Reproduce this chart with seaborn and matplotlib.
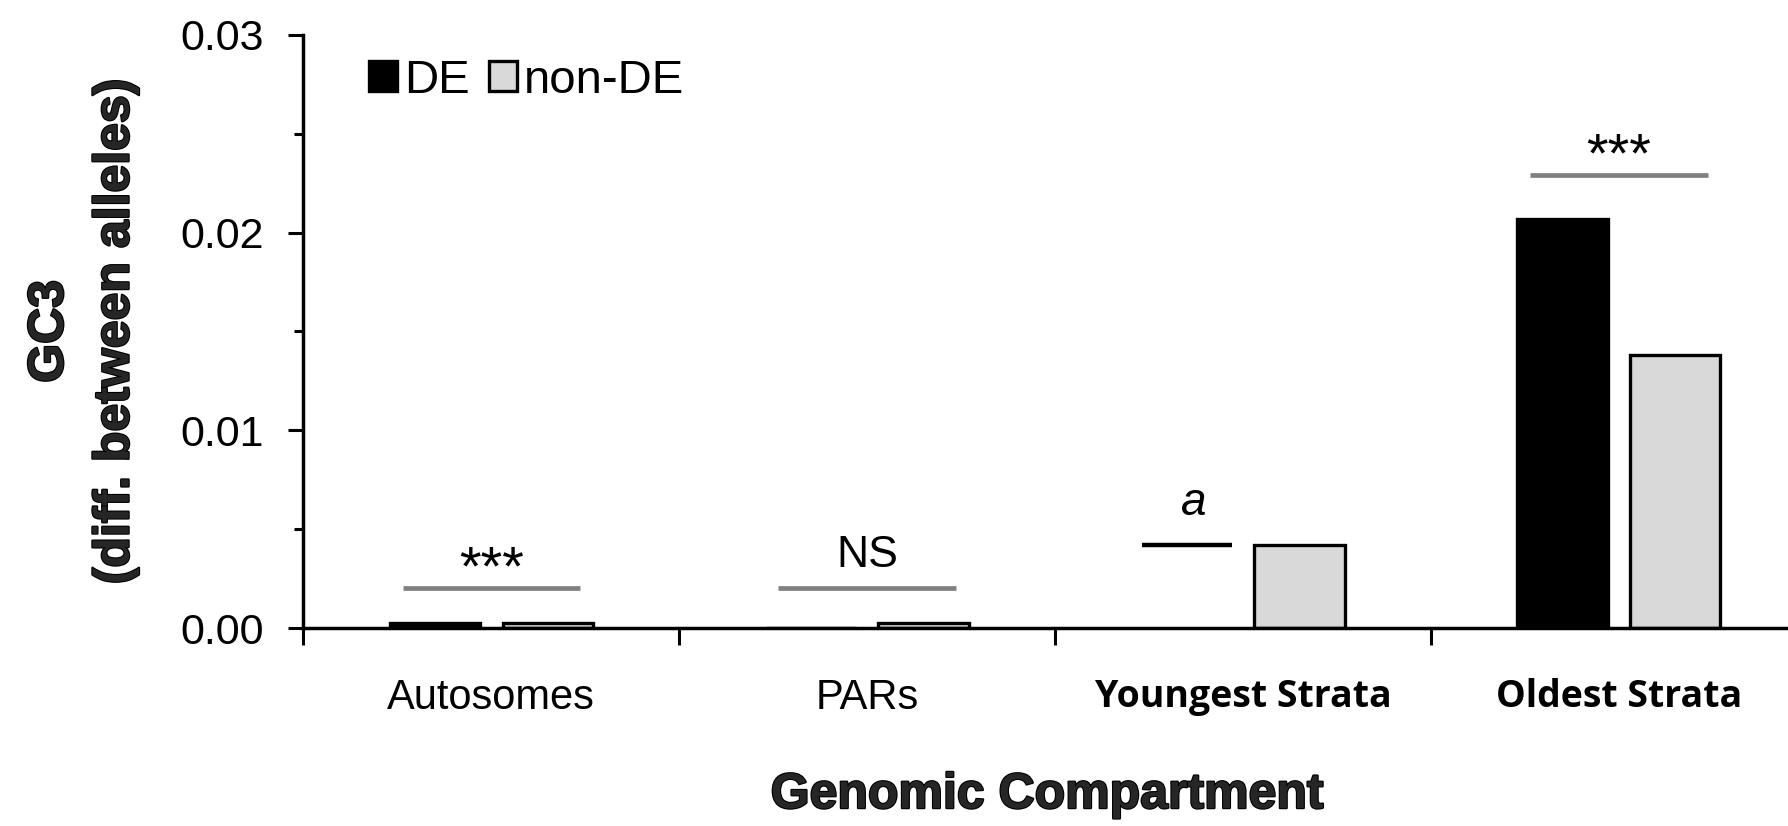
import matplotlib
matplotlib.use("Agg")
import matplotlib.pyplot as plt
import matplotlib.patheffects as pe
from matplotlib.patches import Patch
from matplotlib.ticker import FixedLocator, FixedFormatter
import pandas as pd
import seaborn as sns

# GC3 difference between alleles per genomic compartment
categories = ["Autosomes", "PARs", "Youngest Strata", "Oldest Strata"]
de_values = [0.00023, 0.0, 0.0042, 0.0207]
nonde_values = [0.00023, 0.00023, 0.0042, 0.0138]
groups = ["DE", "non-DE"]
sig_labels = ["***", "NS", "a", "***"]
bracket_y = [0.0020, 0.0020, None, 0.0229]
y_ticks = [0.0, 0.01, 0.02, 0.03]
y_tick_labels = ["0.00", "0.01", "0.02", "0.03"]
bold_categories = ["Youngest Strata", "Oldest Strata"]

df = pd.DataFrame({
    "compartment": categories * 2,
    "group": [groups[0]] * len(categories) + [groups[1]] * len(categories),
    "value": de_values + nonde_values,
})

sns.set_theme(style="white")
plt.rcParams["font.family"] = ["Liberation Sans", "DejaVu Sans"]
plt.rcParams["text.color"] = "black"
plt.rcParams["xtick.color"] = "black"
plt.rcParams["ytick.color"] = "black"

fig = plt.figure(figsize=(17.88, 8.26), dpi=100)
ax = fig.add_axes([0.1697, 0.2397, 0.8303, 0.718])

colors = {"DE": "black", "non-DE": "#d9d9d9"}
sns.barplot(data=df, x="compartment", y="value", hue="group", order=categories,
            hue_order=groups, palette=colors, edgecolor="black", linewidth=2.4,
            width=0.6, gap=0.2, errorbar=None, ax=ax)

# The youngest-strata DE value is shown only by its top edge
de_bars = ax.containers[0]
youngest = de_bars[categories.index("Youngest Strata")]
youngest.set_facecolor("none")
youngest.set_edgecolor("none")
ax.plot([youngest.get_x(), youngest.get_x() + youngest.get_width()],
        [youngest.get_height()] * 2, color="black", lw=3.2, solid_capstyle="butt")

# Significance bars and labels
for i, lab in enumerate(sig_labels):
    if lab == "a":
        ax.text(youngest.get_x() + youngest.get_width() / 2 + 0.02,
                youngest.get_height() + 0.0015, lab, ha="center", va="baseline",
                fontsize=33, style="italic")
        continue
    y = bracket_y[i]
    ax.plot([i - 0.236, i + 0.236], [y, y], color="#808080", lw=3.4,
            solid_capstyle="butt")
    if lab == "NS":
        ax.text(i, y + 0.0011, lab, ha="center", va="baseline", fontsize=32)
    else:
        ax.text(i, y + 0.0002, lab, ha="center", va="baseline", fontsize=40)

ax.set_xlim(-0.5, 3.45)
ax.set_ylim(0, 0.03)

# Axes styling
for side in ["top", "right"]:
    ax.spines[side].set_visible(False)
for side in ["left", "bottom"]:
    ax.spines[side].set_linewidth(2.5)
    ax.spines[side].set_color("black")

ax.yaxis.set_major_locator(FixedLocator(y_ticks))
ax.yaxis.set_major_formatter(FixedFormatter(y_tick_labels))
ax.yaxis.set_minor_locator(FixedLocator([t + 0.005 for t in y_ticks[:-1]]))
ax.tick_params(axis="y", which="major", direction="out", length=10.5, width=2.2,
               labelsize=31, pad=18, left=True)
ax.tick_params(axis="y", which="minor", direction="out", length=6.5, width=2.2,
               left=True)

ax.xaxis.set_major_locator(FixedLocator(range(len(categories))))
ax.xaxis.set_minor_locator(FixedLocator([i - 0.5 for i in range(len(categories) + 1)]))
ax.set_xticklabels(categories)
ax.tick_params(axis="x", which="major", length=0, labelsize=30, pad=36)
ax.tick_params(axis="x", which="minor", direction="out", length=12, width=2.2,
               bottom=True)
for t in ax.get_xticklabels():
    if t.get_text() in bold_categories:
        t.set_fontweight("bold")
        t.set_family(["Open Sans", "Liberation Sans"])
        t.set_fontsize(27)

heavy = [pe.withStroke(linewidth=1.6, foreground="black")]
ax.set_xlabel("Genomic Compartment", fontsize=36, fontweight="bold",
              path_effects=heavy)
ax.xaxis.set_label_coords(0.501, -0.243)
ax.set_ylabel("GC3\n(diff. between alleles)", fontsize=36, fontweight="bold",
              linespacing=1.55, path_effects=heavy)
ax.yaxis.set_label_coords(-0.111, 0.5)

# Legend
ax.get_legend().remove()
handles = [Patch(facecolor=colors[g], edgecolor="black", linewidth=2.4) for g in groups]
ax.legend(handles, groups, loc="upper left", bbox_to_anchor=(0.028, 1.0), ncol=2,
          frameon=False, fontsize=34, handlelength=0.6, handleheight=0.6,
          handletextpad=0.15, columnspacing=0.4, borderaxespad=0.1)

fig.savefig("out.png", dpi=100)
